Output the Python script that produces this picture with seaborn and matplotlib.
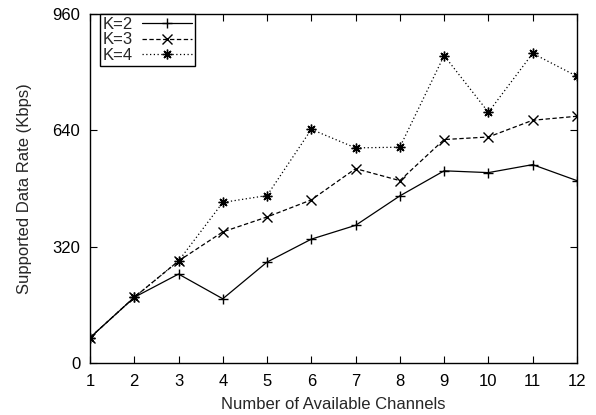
import pandas as pd
import numpy as np
import matplotlib
matplotlib.use("Agg")
import matplotlib.pyplot as plt
import seaborn as sns

# Data
channels = [1, 2, 3, 4, 5, 6, 7, 8, 9, 10, 11, 12]
rate_k2 = [70, 181, 245, 177, 278, 341, 379, 460, 529, 524, 546, 502]
rate_k3 = [70, 181, 281, 361, 402, 449, 535, 502, 615, 622, 668, 679]
rate_k4 = [70, 181, 281, 442, 461, 643, 592, 594, 846, 690, 852, 789]
series_names = ["K=2", "K=3", "K=4"]
y_ticks = [0, 320, 640, 960]

df = pd.DataFrame({
    "channels": channels * 3,
    "rate": rate_k2 + rate_k3 + rate_k4,
    "K": [n for n in series_names for _ in channels],
})

sns.set_style("ticks")
plt.rcParams["font.family"] = ["Liberation Sans", "DejaVu Sans"]

fig = plt.figure(figsize=(5.96, 4.15), dpi=100)
ax = fig.add_axes([0.151, 0.125, 0.817, 0.841])

sns.lineplot(
    data=df, x="channels", y="rate", hue="K", style="K",
    palette=["black"] * 3,
    markers={"K=2": "+", "K=3": "x", "K=4": (8, 2, 0)},
    dashes={"K=2": "", "K=3": (3.5, 2), "K=4": (1, 2)},
    markersize=7, markeredgewidth=1.0, linewidth=0.9,
    legend=False, ax=ax,
)

for line in ax.get_lines():
    line.set_markeredgecolor("black")
    line.set_markerfacecolor("black")

ax.set_xlim(1, 12)
ax.set_ylim(0, 960)
ax.set_xticks(channels)
ax.set_yticks(y_ticks)
ax.tick_params(direction="in", length=5, width=0.8, top=True, right=True,
               labelsize=12, colors="black")
ax.tick_params(axis="x", pad=8)
ax.tick_params(axis="y", pad=7)
for side in ax.spines.values():
    side.set_linewidth(1.0)
    side.set_color("black")

ax.set_xlabel("Number of Available Channels", fontsize=12, labelpad=5.5)
ax.set_ylabel("Supported Data Rate (Kbps)", fontsize=12, labelpad=15)

leg = ax.legend(ax.get_lines(), series_names, loc="upper left",
                bbox_to_anchor=(0.02, 1.0),
                markerfirst=False, fontsize=12, frameon=True, fancybox=False,
                borderaxespad=0.0, borderpad=0.15, labelspacing=0.05,
                handlelength=3.0, handletextpad=0.6)
leg.get_frame().set_edgecolor("black")
leg.get_frame().set_linewidth(1.0)
leg.get_frame().set_alpha(1)

fig.savefig("out.png", dpi=100)
